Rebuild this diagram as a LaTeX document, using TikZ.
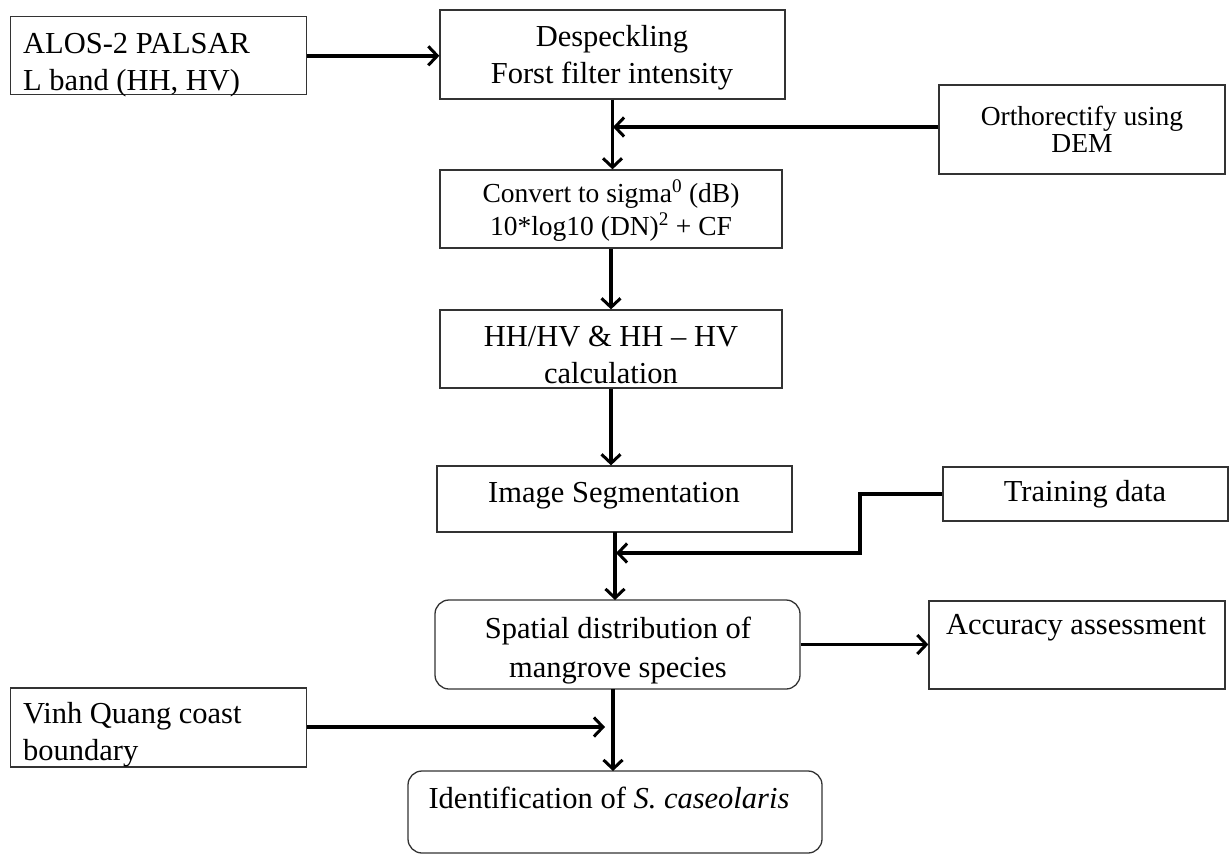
\documentclass[tikz,border=0pt]{standalone}
\usepackage{fontspec}
\setmainfont{Liberation Serif}
\usetikzlibrary{arrows.meta}
\definecolor{boxgray}{HTML}{333333}
\newcommand{\mainsize}{\fontsize{30.5}{37}\selectfont}
\newcommand{\smallsize}{\fontsize{27.5}{33}\selectfont}
\begin{document}
\begin{tikzpicture}[x=1pt,y=-1pt,
  box/.style={draw=boxgray, line width=1.3pt, rectangle, inner sep=0pt},
  rbox/.style={box, rounded corners=14pt},
  lbl/.style={anchor=base, inner sep=0pt, font=\mainsize, align=center},
  lbll/.style={lbl, anchor=base west, align=left},
  small/.style={font=\smallsize},
  link/.style={line width=3.4pt},
  arr/.style={link, -{Straight Barb[length=9pt,width=19pt,line width=3pt]}}]
\useasboundingbox (0,0) rectangle (1232,855);

% boxes
\node[box, minimum width=296pt, minimum height=78pt] (alos) at (158.8,55.8) {};
\node[box, minimum width=345pt, minimum height=89pt] (des) at (612.5,54.5) {};
\node[box, minimum width=286pt, minimum height=89pt] (ortho) at (1082,129.5) {};
\node[box, minimum width=342pt, minimum height=78pt] (conv) at (611,209) {};
\node[box, minimum width=342pt, minimum height=78pt] (hh) at (611,349) {};
\node[box, minimum width=355pt, minimum height=66pt] (seg) at (614.5,499) {};
\node[box, minimum width=285pt, minimum height=54pt] (train) at (1085.5,494) {};
\node[rbox, minimum width=365pt, minimum height=89pt] (spat) at (617.5,644.5) {};
\node[box, minimum width=296pt, minimum height=88pt] (acc) at (1077,645) {};
\node[box, minimum width=296pt, minimum height=79pt] (vinh) at (158.8,727.5) {};
\node[rbox, minimum width=414pt, minimum height=82pt] (ident) at (615,812) {};

% texts (anchored at the baseline of their last line)
\node[lbll] (alosT) at (23,90) {ALOS-2 PALSAR\\L band (HH, HV)};
\node[lbl] (desT) at (612,83) {Despeckling\\Forst filter intensity};
\node[lbl, font={\fontsize{27.5}{27}\selectfont}] (orthoT) at (1082,152) {Orthorectify using\\DEM};
\node[lbl, small] (convT) at (611,235) {Convert to sigma\textsuperscript{0} (dB)\\10*log10 (DN)\textsuperscript{2} + CF};
\node[lbl] (hhT) at (611,383) {HH/HV \& HH -- HV\\calculation};
\node[lbl] (segT) at (614,502) {Image Segmentation};
\node[lbl] (trainT) at (1085,501) {Training data};
\node[lbl, font={\fontsize{30.5}{39}\selectfont}] (spatT) at (618,677) {Spatial distribution of\\mangrove species};
\node[lbl] (accT) at (1076,634) {Accuracy assessment};
\node[lbll] (vinhT) at (23,760) {Vinh Quang coast\\boundary};
\node[lbl] (identT) at (609,808) {Identification of \textit{S. caseolaris}};

% junction points on the main column
\coordinate (jOrtho) at (613,127);
\coordinate (jTrain) at (616,553);
\coordinate (jVinh) at (605,727);
\coordinate (bend) at (860,494);

% connectors
\draw[arr] (alos.east) -- (des.west |- alos.east);
\draw[arr] (des.south) -- (des.south |- conv.north);
\draw[arr] (ortho.west |- jOrtho) -- (jOrtho);
\draw[arr] (conv.south) -- (hh.north);
\draw[arr] (hh.south) -- (hh.south |- seg.north);
\draw[arr] (615,532) -- (615,600);
\draw[arr] (train.west) -- (bend) -- (bend |- jTrain) -- (jTrain);
\draw[arr] (spat.east) -- (acc.west |- spat.east);
\draw[arr] (613,689) -- (613,771);
\draw[arr] (vinh.east |- jVinh) -- (jVinh);
\end{tikzpicture}
\end{document}
